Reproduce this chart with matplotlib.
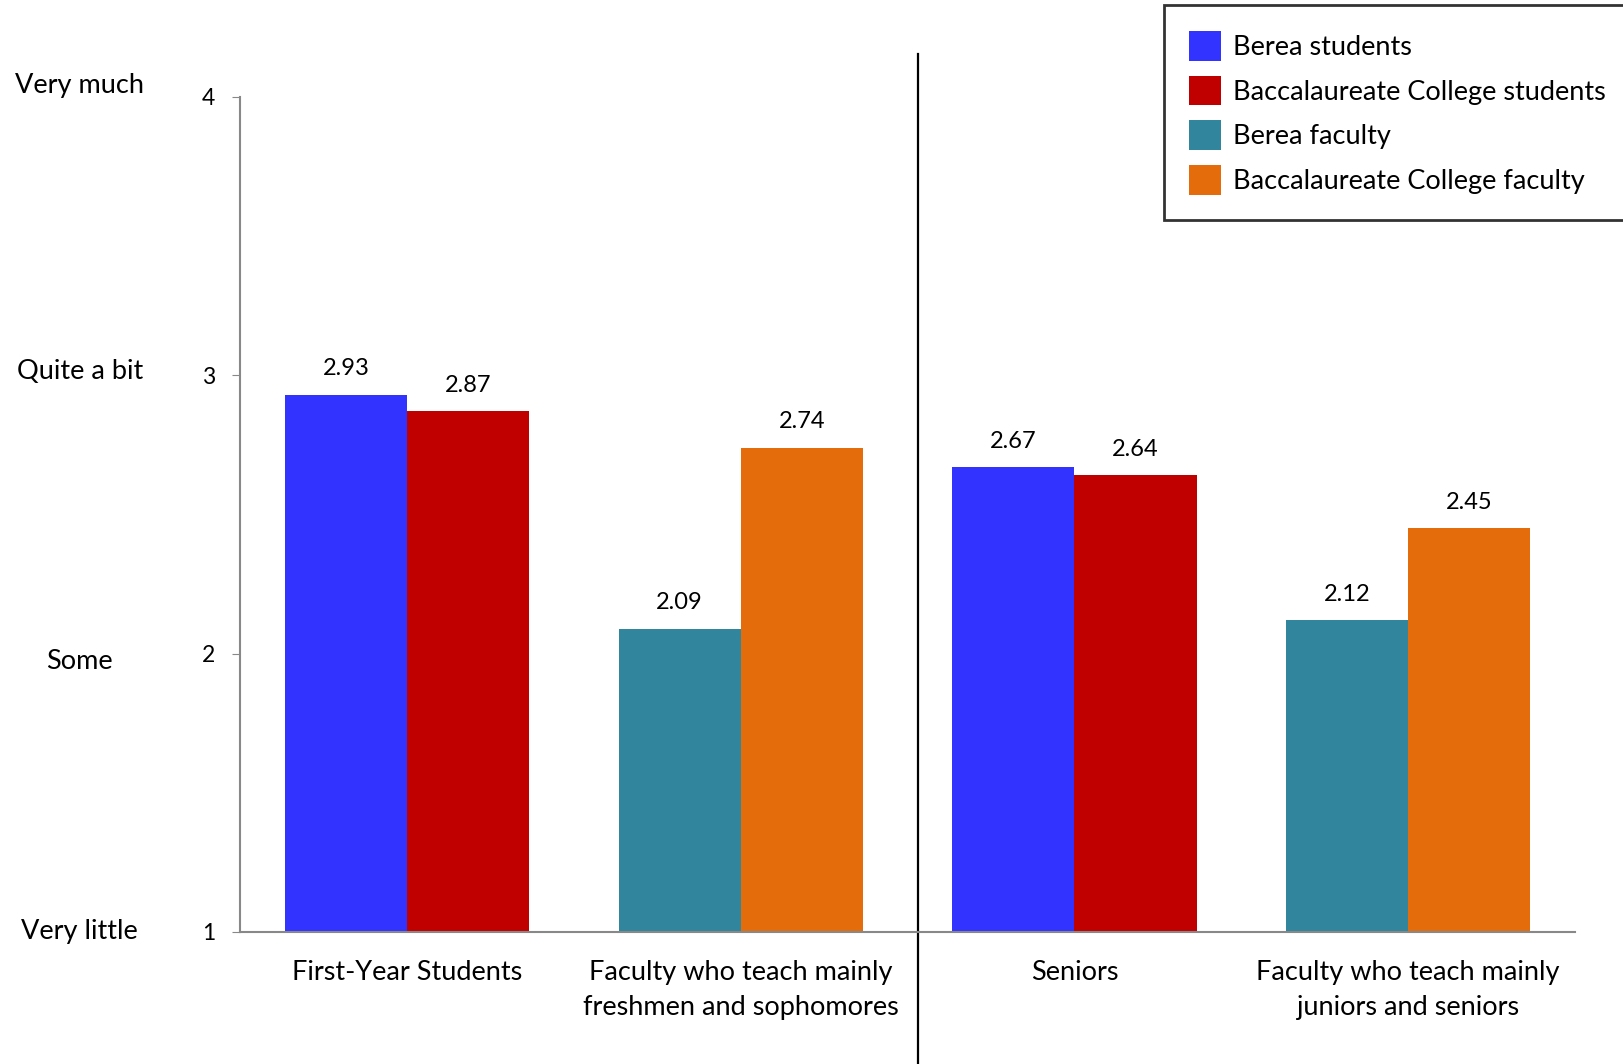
import matplotlib
matplotlib.use("Agg")
import matplotlib.pyplot as plt
import numpy as np
from matplotlib.patches import Patch

plt.rcParams["font.family"] = ["Lato", "DejaVu Sans"]

categories = ["First-Year Students",
              "Faculty who teach mainly\nfreshmen and sophomores",
              "Seniors",
              "Faculty who teach mainly\njuniors and seniors"]
left_vals = [2.93, 2.09, 2.67, 2.12]     # Berea students / Berea faculty
right_vals = [2.87, 2.74, 2.64, 2.45]    # Baccalaureate students / faculty
series = ["Berea students", "Baccalaureate College students",
          "Berea faculty", "Baccalaureate College faculty"]
scale_labels = ["Very little", "Some", "Quite a bit", "Very much"]
scale_ticks = [1, 2, 3, 4]

BLUE, RED, TEAL, ORANGE = "#3333FF", "#C00000", "#31859C", "#E46C0A"
left_colors = [BLUE, TEAL, BLUE, TEAL]
right_colors = [RED, ORANGE, RED, ORANGE]

fig = plt.figure(figsize=(16.23, 10.64), dpi=100)
ax = fig.add_axes([0.1479, 0.1241, 0.8226, 0.7848])

x = np.arange(len(categories))
w = 0.366
ax.bar(x - w / 2, np.array(left_vals) - 1, w, bottom=1, color=left_colors)
ax.bar(x + w / 2, np.array(right_vals) - 1, w, bottom=1, color=right_colors)
for xs, vals in ((x - w / 2, left_vals), (x + w / 2, right_vals)):
    for xi, v in zip(xs, vals):
        ax.text(xi, v + 0.055, f"{v:.2f}", ha="center", va="bottom", fontsize=17)

ax.set_xlim(-0.5, 3.5)
ax.set_ylim(1, 4)
ax.set_xticks(x)
ax.set_xticklabels(categories, fontsize=19.5, linespacing=1.5)
ax.tick_params(axis="x", length=0, pad=20)
ax.set_yticks(scale_ticks)
ax.set_yticklabels([str(t) for t in scale_ticks], fontsize=16.5)
ax.tick_params(axis="y", length=6, color="#888", pad=12)
for s in ("top", "right"):
    ax.spines[s].set_visible(False)
for s in ("left", "bottom"):
    ax.spines[s].set_color("#888")
    ax.spines[s].set_linewidth(1.5)

offs = [0.0, -0.03, 0.012, 0.04]
for t, lab, o in zip(scale_ticks, scale_labels, offs):
    ax.text(-0.12, t + o, lab, transform=ax.get_yaxis_transform(),
            ha="center", va="center", fontsize=19.5)

# divider between first-year and senior halves
ax.axvline(1.53, ymin=-0.16, ymax=1.052, color="black", lw=1.6, clip_on=False)

handles = [Patch(facecolor=c, edgecolor="none") for c in (BLUE, RED, TEAL, ORANGE)]
leg = fig.legend(handles, series, loc="upper left", bbox_to_anchor=(0.717, 0.995),
                 fontsize=19.5, frameon=True, fancybox=False, handlelength=1.15,
                 handleheight=1.3, handletextpad=0.46, labelspacing=0.56,
                 borderpad=0.95, borderaxespad=0)
leg.get_frame().set_edgecolor("black")
leg.get_frame().set_linewidth(2)

fig.savefig("out.png", dpi=100)
